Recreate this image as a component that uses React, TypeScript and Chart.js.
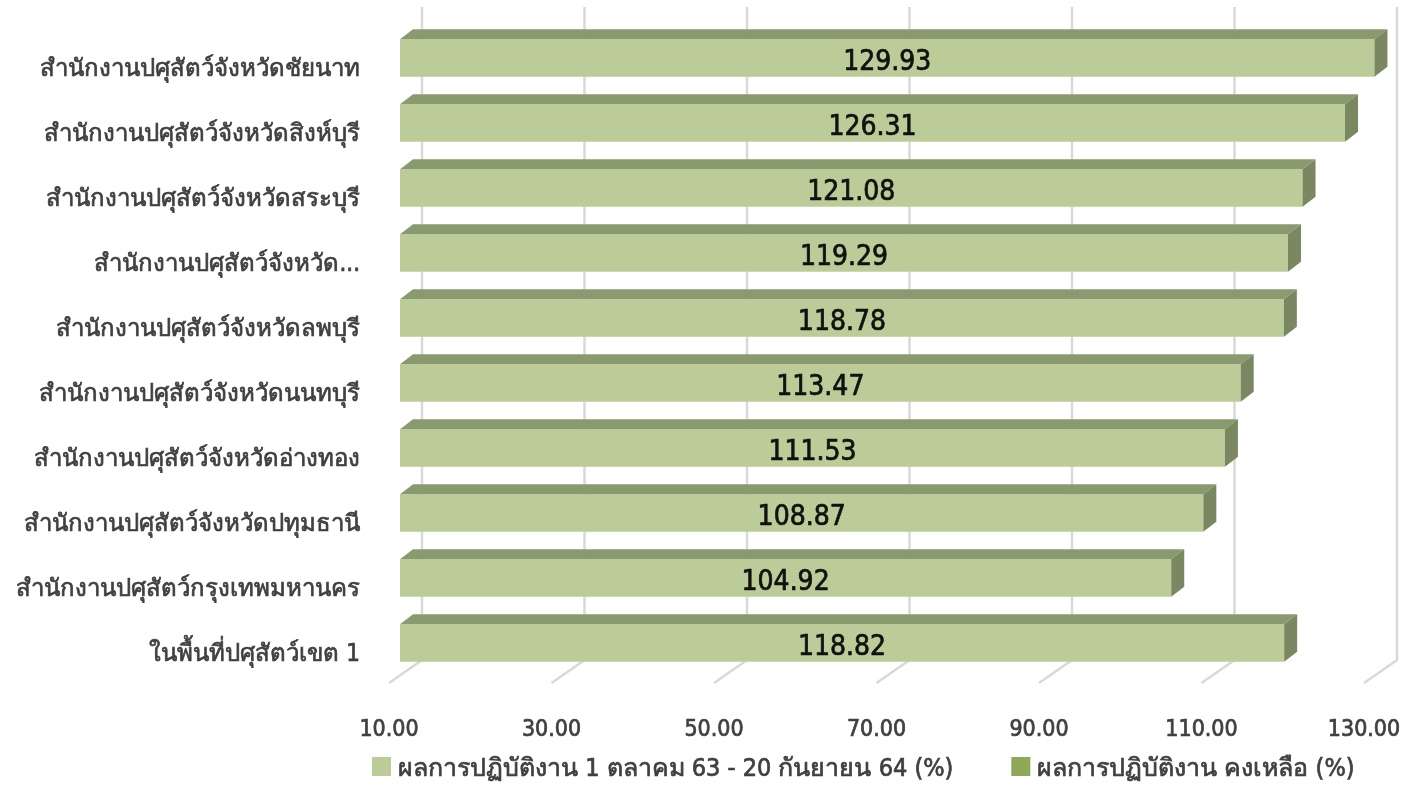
import { useEffect, useRef } from "react";
import { Chart, registerables } from "chart.js";

Chart.register(...registerables);

const categories = [
  "สำนักงานปศุสัตว์จังหวัดชัยนาท",
  "สำนักงานปศุสัตว์จังหวัดสิงห์บุรี",
  "สำนักงานปศุสัตว์จังหวัดสระบุรี",
  "สำนักงานปศุสัตว์จังหวัด...",
  "สำนักงานปศุสัตว์จังหวัดลพบุรี",
  "สำนักงานปศุสัตว์จังหวัดนนทบุรี",
  "สำนักงานปศุสัตว์จังหวัดอ่างทอง",
  "สำนักงานปศุสัตว์จังหวัดปทุมธานี",
  "สำนักงานปศุสัตว์กรุงเทพมหานคร",
  "ในพื้นที่ปศุสัตว์เขต 1",
];
const performance = [129.93, 126.31, 121.08, 119.29, 118.78, 113.47, 111.53, 108.87, 104.92, 118.82];
const remaining = [0, 0, 0, 0, 0, 0, 0, 0, 0, 0];
const seriesNames = [
  "ผลการปฏิบัติงาน 1 ตลาคม 63 - 20 กันยายน 64 (%)",
  "ผลการปฏิบัติงาน คงเหลือ (%)",
];
const tickValues = [10, 30, 50, 70, 90, 110, 130];

const FONT = "'DejaVu Sans Condensed', 'DejaVu Sans', sans-serif";
const FRONT = "#BBCC98";
const TOP = "#8A9A6F";
const SIDE = "#7A8761";
const SERIES2 = "#8EA858";
const GRID = "#D9D9D9";
const TEXT = "#404040";
const DX = 13;
const DY = 10;

const threeD = {
  id: "threeD",
  beforeDatasetsDraw(chart: any) {
    const { ctx, chartArea, scales } = chart;
    const x = scales.x;
    ctx.save();
    ctx.strokeStyle = GRID;
    ctx.lineWidth = 2.5;
    for (const v of tickValues) {
      const px = x.getPixelForValue(v);
      ctx.beginPath();
      ctx.moveTo(px + 22, chartArea.top - 18.5);
      ctx.lineTo(px + 22, chartArea.bottom - 15.5);
      ctx.lineTo(px - 11, chartArea.bottom + 7.5);
      ctx.stroke();
    }
    ctx.restore();
  },
  afterDatasetsDraw(chart: any) {
    const { ctx, chartArea } = chart;
    const meta = chart.getDatasetMeta(0);
    ctx.save();
    meta.data.forEach((bar: any, i: number) => {
      const p = bar.getProps(["x", "y", "base", "height"], true);
      const left = Math.max(chartArea.left, Math.min(p.base, p.x));
      const right = Math.max(p.base, p.x);
      const top = p.y - p.height / 2;
      const bottom = p.y + p.height / 2;
      ctx.fillStyle = TOP;
      ctx.beginPath();
      ctx.moveTo(left, top);
      ctx.lineTo(left + DX, top - DY);
      ctx.lineTo(right + DX, top - DY);
      ctx.lineTo(right, top);
      ctx.closePath();
      ctx.fill();
      ctx.fillStyle = SIDE;
      ctx.beginPath();
      ctx.moveTo(right, top);
      ctx.lineTo(right + DX, top - DY);
      ctx.lineTo(right + DX, bottom - DY);
      ctx.lineTo(right, bottom);
      ctx.closePath();
      ctx.fill();
      const label = performance[i].toFixed(2);
      ctx.fillStyle = "#111111";
      ctx.strokeStyle = "#111111";
      ctx.lineWidth = 0.7;
      ctx.font = `28px ${FONT}`;
      ctx.textAlign = "center";
      ctx.textBaseline = "middle";
      const cx = (left + right) / 2;
      ctx.fillText(label, cx, p.y + 4.5);
      ctx.strokeText(label, cx, p.y + 4.5);
    });
    ctx.restore();
  },
  afterDraw(chart: any) {
    const { ctx } = chart;
    ctx.save();
    ctx.font = `25px ${FONT}`;
    ctx.textBaseline = "middle";
    ctx.textAlign = "left";
    ctx.lineWidth = 0.7;
    let x = 372;
    const y = 766.5;
    chart.data.datasets.forEach((ds: any) => {
      ctx.fillStyle = ds.backgroundColor;
      ctx.fillRect(x, y - 9.5, 19, 19);
      ctx.fillStyle = TEXT;
      ctx.strokeStyle = TEXT;
      ctx.fillText(ds.label, x + 26, y + 3);
      ctx.strokeText(ds.label, x + 26, y + 3);
      x += 26 + ctx.measureText(ds.label).width + 58;
    });
    ctx.restore();
  },
};

function zeroPad(scale: any) {
  scale.paddingTop = 0;
  scale.paddingBottom = 0;
  scale.paddingLeft = 0;
  scale.paddingRight = 0;
}

export default function App() {
  const ref = useRef<HTMLCanvasElement>(null);
  useEffect(() => {
    document.body.style.margin = "0";
    const chart = new Chart(ref.current!, {
      type: "bar",
      data: {
        labels: categories,
        datasets: [
          {
            label: seriesNames[0],
            data: performance,
            backgroundColor: FRONT,
            borderWidth: 0,
            barPercentage: 0.58,
            categoryPercentage: 1,
          },
          {
            label: seriesNames[1],
            data: remaining,
            backgroundColor: SERIES2,
            borderWidth: 0,
            barPercentage: 0.58,
            categoryPercentage: 1,
          },
        ],
      },
      options: {
        indexAxis: "y",
        responsive: false,
        animation: false,
        layout: { padding: { top: 25.5, right: 35, bottom: 0, left: 0 } },
        plugins: {
          legend: { display: false },
          tooltip: { enabled: false },
        },
        scales: {
          x: {
            stacked: true,
            min: 10,
            max: 130,
            afterBuildTicks(scale: any) {
              scale.ticks = tickValues.map((v) => ({ value: v }));
            },
            afterFit(scale: any) {
              scale.height = 109.5;
              zeroPad(scale);
            },
            grid: { display: false, drawTicks: false },
            border: { display: false },
            ticks: {
              padding: 41,
              labelOffset: -11,
              color: TEXT,
              textStrokeColor: TEXT,
              textStrokeWidth: 0.7,
              font: { family: FONT, size: 23 },
              maxRotation: 0,
              callback: (v: any) => Number(v).toFixed(2),
            },
          },
          y: {
            stacked: true,
            afterFit(scale: any) {
              scale.width = 400;
              zeroPad(scale);
            },
            grid: { display: false, drawTicks: false },
            border: { display: false },
            ticks: {
              padding: 40,
              labelOffset: 12,
              color: TEXT,
              textStrokeColor: TEXT,
              textStrokeWidth: 0.7,
              font: { family: FONT, size: 24 },
            },
          },
        },
      },
      plugins: [threeD],
    });
    return () => chart.destroy();
  }, []);
  return (
    <div style={{ width: 1410, height: 785 }}>
      <canvas ref={ref} width={1410} height={785} />
    </div>
  );
}
